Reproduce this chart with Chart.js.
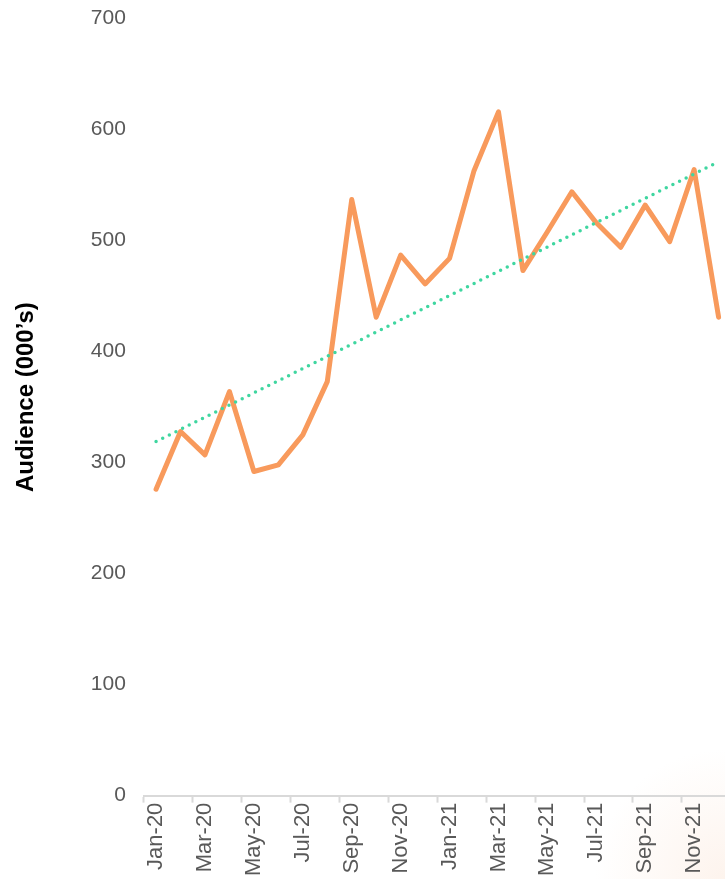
<!DOCTYPE html>
<html>
<head>
<meta charset="utf-8">
<script src="https://cdn.jsdelivr.net/npm/chart.js@4"></script>
<style>
  html, body {
    margin: 0;
    padding: 0;
    width: 725px;
    height: 879px;
    overflow: hidden;
    background: #fff;
  }
  #wrap {
    position: absolute;
    left: 0;
    top: -12px;
    width: 745px;
    height: 891px;
    background: radial-gradient(circle at 725px 891px, rgba(252, 236, 225, 0.6) 0, rgba(255, 255, 255, 0) 130px);
  }
</style>
</head>
<body>
<div id="wrap"><canvas id="myChart"></canvas></div>
<script>
'use strict';

// months shown on the x axis
let months = [
  'Jan-20', 'Feb-20', 'Mar-20', 'Apr-20', 'May-20', 'Jun-20',
  'Jul-20', 'Aug-20', 'Sep-20', 'Oct-20', 'Nov-20', 'Dec-20',
  'Jan-21', 'Feb-21', 'Mar-21', 'Apr-21', 'May-21', 'Jun-21',
  'Jul-21', 'Aug-21', 'Sep-21', 'Oct-21', 'Nov-21', 'Dec-21'
];

// audience in thousands
let audience = [
  276, 328, 307, 364, 292, 298, 325, 373, 537, 431, 487, 461,
  484, 563, 616, 473, 508, 544, 516, 494, 532, 499, 564, 431
];

// linear trend: only the two ends, joined by spanGaps
let trend = [
  319, null, null, null, null, null, null, null, null, null, null, null,
  null, null, null, null, null, null, null, null, null, null, null, 571
];

let yTicks = [0, 100, 200, 300, 400, 500, 600, 700];

const tickFont = { family: 'Liberation Sans', size: 21 };

let canvasChart = document.getElementById('myChart').getContext('2d');
const myChart = new Chart(canvasChart, {
  type: 'line',
  data: {
    labels: months,
    datasets: [{
      label: 'Trend',
      data: trend,
      spanGaps: true,
      borderColor: '#3fd6a0',
      borderWidth: 3.5,
      borderDash: [0, 7.4],
      borderCapStyle: 'round',
      pointRadius: 0,
      fill: false
    },
    {
      label: 'Audience',
      data: audience,
      borderColor: '#f89a5c',
      borderWidth: 5,
      borderJoinStyle: 'round',
      borderCapStyle: 'round',
      pointRadius: 0,
      tension: 0,
      fill: false
    }]
  },
  options: {
    responsive: true,
    maintainAspectRatio: false,
    animation: false,
    layout: {
      padding: { top: 4, right: 0, bottom: 3, left: 0 }
    },
    plugins: {
      legend: { display: false },
      tooltip: { enabled: false }
    },
    scales: {
      x: {
        type: 'category',
        offset: true,
        border: { display: true, color: '#d9d9d9', width: 2 },
        grid: {
          offset: true,
          drawOnChartArea: false,
          drawTicks: true,
          tickLength: 7,
          tickColor: function (ctx) {
            return ctx.index % 2 === 0 ? '#d9d9d9' : 'rgba(0,0,0,0)';
          },
          tickWidth: 2
        },
        ticks: {
          autoSkip: false,
          minRotation: 90,
          maxRotation: 90,
          padding: 0,
          color: '#595959',
          font: { family: 'Liberation Sans', size: 22 },
          callback: function (value, index) {
            return index % 2 === 0 ? months[index] : '';
          }
        }
      },
      y: {
        min: yTicks[0],
        max: yTicks[yTicks.length - 1],
        border: { display: false },
        grid: { display: false, drawTicks: false },
        afterBuildTicks: function (scale) {
          scale.ticks = yTicks.map(function (v) { return { value: v }; });
        },
        ticks: {
          padding: 18,
          color: '#595959',
          font: tickFont
        },
        title: {
          display: true,
          text: '   Audience (000\u2019s)',
          color: '#000',
          font: { family: 'Liberation Sans', size: 24, weight: 'bold' },
          padding: { top: 12, bottom: 32 }
        }
      }
    }
  }
});
</script>
</body>
</html>
